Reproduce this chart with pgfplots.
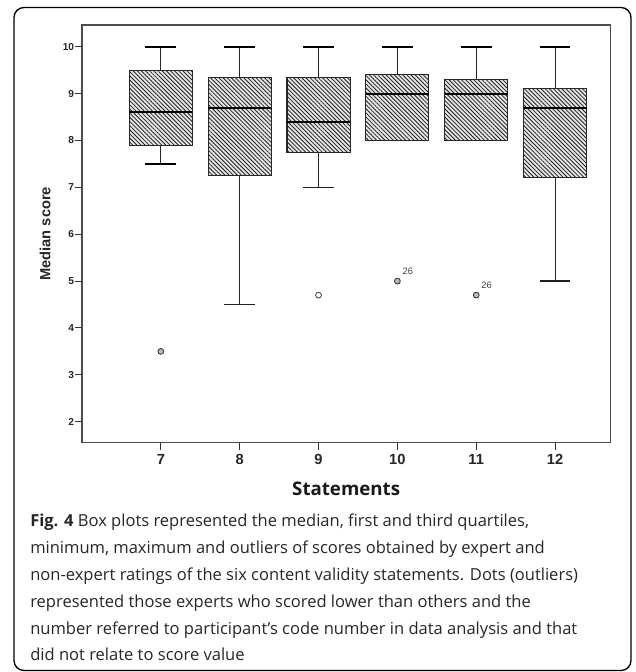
\documentclass[border=0pt]{standalone}
\usepackage{fontspec}
\setmainfont{Open Sans}
\newfontfamily\arial{Liberation Sans}
\usepackage{pgfplots}
\pgfplotsset{compat=1.18}
\usepgfplotslibrary{statistics}
\usetikzlibrary{patterns.meta}
\pgfplotsset{
  thin lower cap/.style={boxplot/draw/lower whisker/.code={%
    \draw[gray!30!black, line width=0.8pt]
      (boxplot cs:\pgfplotsboxplotvalue{lower whisker}) -- (boxplot cs:\pgfplotsboxplotvalue{lower quartile});
    \draw[gray!25!black, line width=1.0pt]
      (boxplot whisker cs:\pgfplotsboxplotvalue{lower whisker},0) -- (boxplot whisker cs:\pgfplotsboxplotvalue{lower whisker},1);
  }},
}
\begin{document}
\begin{tikzpicture}
\useasboundingbox (0,0) rectangle (477pt,-504pt);
\begin{scope}[x=0.75pt,y=-0.75pt]
\draw[line width=1pt, rounded corners=7.5pt] (14,7.5) rectangle (631,670.5);
\begin{scope}[every node/.style={anchor=base west, inner sep=0pt, font=\fontsize{12.4}{14}\selectfont, text=black!85}]
\node at (30,526.5) {\textbf{Fig. 4} Box plots represented the median, first and third quartiles,};
\node at (30,553.3) {minimum, maximum and outliers of scores obtained by expert and};
\node at (30,580.7) {non-expert ratings of the six content validity statements. Dots (outliers)};
\node at (30,607.3) {represented those experts who scored lower than others and the};
\node at (30,634) {number referred to participant’s code number in data analysis and that};
\node at (30,660.7) {did not relate to score value};
\end{scope}
\end{scope}
\begin{axis}[
  at={(61.5pt,-332.03pt)}, anchor=south west,
  scale only axis, width=396.2pt, height=313.3pt,
  xmin=6, xmax=12.7, ymin=1.552, ymax=10.463,
  xtick={7,...,12}, ytick={2,...,10},
  tick align=outside, xtick pos=left, ytick pos=left,
  major tick length=5.25pt,
  axis line style={gray!60!black, line width=1pt},
  tick style={black!80, line width=0.8pt},
  /pgf/number format/assume math mode=true,
  yticklabel style={font=\arial\bfseries\fontsize{7.6}{8}\selectfont, inner sep=0.5pt, text=black!85},
  xticklabel style={font=\arial\bfseries\fontsize{11}{12}\selectfont, text=black!85},
  xlabel={\bfseries Statements},
  ylabel={\arial\bfseries Median score},
  every axis x label/.style={at={(axis description cs:0.5,-0.1252)}, anchor=base, font=\fontsize{14}{16}\selectfont, text=black!90},
  every axis y label/.style={at={(axis description cs:-0.070,0.5)}, rotate=90, anchor=center, font=\fontsize{11}{12}\selectfont, text=black!85},
  boxplot/draw direction=y,
  boxplot/box extend=0.8,
  boxplot/whisker extend=0.39,
  boxplot/every box/.style={fill=gray!20, draw=gray!30!black, line width=0.8pt,
     postaction={pattern={Lines[angle=-45,distance=2.2pt,line width=0.6pt]}, pattern color=gray!25!black}},
  boxplot/every median/.style={black, line width=1.5pt},
  boxplot/draw/lower whisker/.code={%
    \draw[gray!30!black, line width=0.8pt]
      (boxplot cs:\pgfplotsboxplotvalue{lower whisker}) -- (boxplot cs:\pgfplotsboxplotvalue{lower quartile});
    \draw[black, line width=1.6pt]
      (boxplot whisker cs:\pgfplotsboxplotvalue{lower whisker},0) -- (boxplot whisker cs:\pgfplotsboxplotvalue{lower whisker},1);
  },
  boxplot/draw/upper whisker/.code={%
    \draw[gray!30!black, line width=0.8pt]
      (boxplot cs:\pgfplotsboxplotvalue{upper whisker}) -- (boxplot cs:\pgfplotsboxplotvalue{upper quartile});
    \draw[black, line width=1.6pt]
      (boxplot whisker cs:\pgfplotsboxplotvalue{upper whisker},0) -- (boxplot whisker cs:\pgfplotsboxplotvalue{upper whisker},1);
  },
]
\addplot[boxplot prepared={draw position=7, lower whisker=7.5, lower quartile=7.9, median=8.6, upper quartile=9.5, upper whisker=10}] coordinates {};
\addplot[boxplot prepared={draw position=8, lower whisker=4.5, lower quartile=7.25, median=8.7, upper quartile=9.35, upper whisker=10}, thin lower cap] coordinates {};
\addplot[boxplot prepared={draw position=9, lower whisker=7.0, lower quartile=7.75, median=8.4, upper quartile=9.35, upper whisker=10}, thin lower cap] coordinates {};
\addplot[boxplot prepared={draw position=10, lower whisker=8.0, lower quartile=8.0, median=9.0, upper quartile=9.4, upper whisker=10}, boxplot/draw/lower whisker/.code={}] coordinates {};
\addplot[boxplot prepared={draw position=11, lower whisker=8.0, lower quartile=8.0, median=9.0, upper quartile=9.3, upper whisker=10}, boxplot/draw/lower whisker/.code={}] coordinates {};
\addplot[boxplot prepared={draw position=12, lower whisker=5.0, lower quartile=7.2, median=8.7, upper quartile=9.1, upper whisker=10}, thin lower cap] coordinates {};
% outliers
\addplot[only marks, mark=*, mark size=2.2pt, mark options={draw=gray!35!black, fill=gray!55, line width=0.6pt}] coordinates {(7,3.5)};
\addplot[only marks, mark=*, mark size=2.2pt, mark options={draw=gray!45!black, fill=white, line width=0.6pt}] coordinates {(9,4.7)};
\addplot[only marks, mark=*, mark size=2.2pt, mark options={draw=gray!35!black, fill=gray!55, line width=0.6pt},
  point meta=explicit symbolic, nodes near coords, nodes near coords align=horizontal,
  every node near coord/.append style={anchor=west, inner sep=0pt, xshift=3.6pt, yshift=7.6pt, font=\arial\fontsize{7}{8}\selectfont, text=black!75}]
  coordinates {(10,5.0)[26] (11,4.7)[26]};
\end{axis}
\end{tikzpicture}
\end{document}
